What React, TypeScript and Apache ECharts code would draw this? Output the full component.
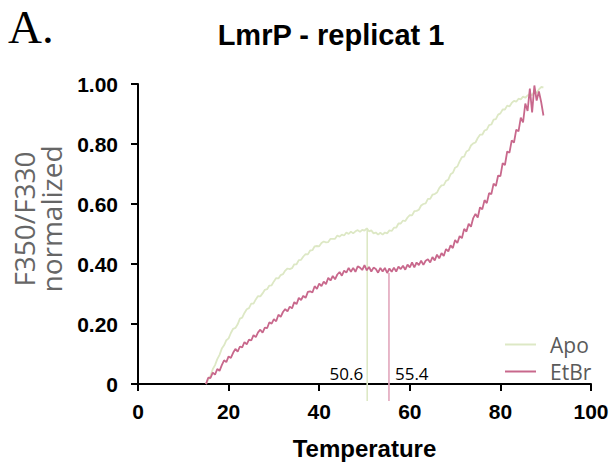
import React, { useEffect, useRef } from "react";
import * as echarts from "echarts";

// Temperature sampling grid of the measurements (°C)
const T_START = 15;
const T_STEP = 0.5;

const seriesNames = ["Apo", "EtBr"];

// F350/F330 normalized, Apo (every 0.5 °C from 15 °C)
const apoValues = [
  0.000, 0.015, 0.027, 0.049, 0.063, 0.083, 0.097, 0.118, 0.129, 0.146,
  0.152, 0.170, 0.184, 0.187, 0.199, 0.218, 0.221, 0.237, 0.249, 0.253,
  0.268, 0.268, 0.282, 0.293, 0.292, 0.302, 0.314, 0.316, 0.328, 0.329,
  0.342, 0.353, 0.352, 0.363, 0.366, 0.378, 0.385, 0.383, 0.386, 0.399,
  0.399, 0.413, 0.414, 0.425, 0.433, 0.432, 0.445, 0.446, 0.459, 0.460,
  0.459, 0.470, 0.475, 0.472, 0.473, 0.484, 0.484, 0.484, 0.495, 0.491,
  0.498, 0.495, 0.505, 0.500, 0.508, 0.502, 0.509, 0.513, 0.507, 0.514,
  0.511, 0.519, 0.509, 0.512, 0.502, 0.505, 0.498, 0.504, 0.498, 0.505,
  0.502, 0.512, 0.510, 0.521, 0.521, 0.535, 0.535, 0.545, 0.543, 0.555,
  0.563, 0.562, 0.576, 0.577, 0.581, 0.595, 0.600, 0.602, 0.617, 0.617,
  0.631, 0.633, 0.638, 0.653, 0.662, 0.663, 0.677, 0.681, 0.699, 0.704,
  0.721, 0.725, 0.742, 0.756, 0.758, 0.775, 0.779, 0.795, 0.802, 0.805,
  0.820, 0.831, 0.831, 0.845, 0.848, 0.863, 0.865, 0.881, 0.883, 0.898,
  0.902, 0.915, 0.915, 0.928, 0.925, 0.937, 0.944, 0.941, 0.951, 0.949,
  0.958, 0.954, 0.962, 0.967, 0.963, 0.973, 0.971, 0.982, 0.990, 0.989,
];

// F350/F330 normalized, EtBr (every 0.5 °C from 15 °C)
const etbrValues = [
  0.000, 0.021, 0.020, 0.038, 0.031, 0.050, 0.044, 0.063, 0.079, 0.073,
  0.092, 0.087, 0.104, 0.117, 0.108, 0.125, 0.122, 0.140, 0.132, 0.148,
  0.145, 0.163, 0.156, 0.172, 0.181, 0.171, 0.188, 0.186, 0.206, 0.201,
  0.216, 0.209, 0.231, 0.224, 0.240, 0.250, 0.242, 0.258, 0.252, 0.273,
  0.266, 0.287, 0.280, 0.294, 0.287, 0.307, 0.309, 0.305, 0.326, 0.317,
  0.335, 0.326, 0.341, 0.333, 0.354, 0.345, 0.360, 0.349, 0.365, 0.373,
  0.361, 0.378, 0.371, 0.387, 0.374, 0.387, 0.374, 0.392, 0.388, 0.380,
  0.396, 0.379, 0.390, 0.375, 0.388, 0.383, 0.371, 0.387, 0.375, 0.387,
  0.370, 0.385, 0.374, 0.388, 0.375, 0.391, 0.383, 0.394, 0.381, 0.398,
  0.389, 0.405, 0.389, 0.405, 0.396, 0.411, 0.397, 0.411, 0.416, 0.405,
  0.423, 0.412, 0.431, 0.419, 0.436, 0.427, 0.450, 0.442, 0.462, 0.453,
  0.480, 0.470, 0.493, 0.486, 0.517, 0.508, 0.534, 0.524, 0.553, 0.567,
  0.555, 0.589, 0.582, 0.613, 0.603, 0.636, 0.633, 0.668, 0.660, 0.695,
  0.693, 0.736, 0.730, 0.775, 0.771, 0.812, 0.805, 0.848, 0.842, 0.888,
  0.872, 0.935, 0.910, 0.985, 0.905, 0.995, 0.945, 0.975, 0.940, 0.895,
];

// Melting temperatures (Tm) and the curve value where each marker starts
const tmValues = [50.6, 55.4];
const tmLabels = ["50.6", "55.4"];
const tmTops = [0.52, 0.37];

const APO_COLOR = "#dde8c5";
const ETBR_COLOR = "#c8688c";
const TM_COLORS = ["#dde8c5", "#e2a6bc"];

const SANS = '"Liberation Sans", Arial, sans-serif';
const SOFT = '"Open Sans", "Noto Sans", sans-serif';
const SERIF = '"Liberation Serif", "Times New Roman", serif';

export default function App() {
  const ref = useRef<HTMLDivElement>(null);

  useEffect(() => {
    document.body.style.margin = "0";
    if (!ref.current) return;
    const chart = echarts.init(ref.current, null, { renderer: "svg" });

    const apoData = apoValues.map((v, i) => [T_START + i * T_STEP, v]);
    const etbrData = etbrValues.map((v, i) => [T_START + i * T_STEP, v]);

    chart.setOption({
      animation: false,
      backgroundColor: "#fff",
      grid: { left: 138, right: 22, top: 84, bottom: 88, containLabel: false },
      xAxis: {
        type: "value",
        min: 0,
        max: 100,
        interval: 20,
        axisLine: { show: true, onZero: false, lineStyle: { color: "#000", width: 2 } },
        axisTick: { show: true, length: 7, lineStyle: { color: "#000", width: 2 } },
        axisLabel: {
          color: "#000",
          fontFamily: SANS,
          fontWeight: "bold",
          fontSize: 21,
          margin: 17,
        },
        splitLine: { show: false },
        name: "Temperature",
        nameLocation: "middle",
        nameGap: 52,
        nameTextStyle: { color: "#000", fontFamily: SANS, fontWeight: "bold", fontSize: 24 },
      },
      yAxis: {
        type: "value",
        min: 0,
        max: 1,
        interval: 0.2,
        axisLine: { show: true, lineStyle: { color: "#000", width: 2 } },
        axisTick: { show: true, length: 7, lineStyle: { color: "#000", width: 2 } },
        axisLabel: {
          color: "#000",
          fontFamily: SANS,
          fontWeight: "bold",
          fontSize: 21,
          margin: 20,
          formatter: (v: number) => (v === 0 ? "0" : v.toFixed(2)),
        },
        splitLine: { show: false },
      },
      legend: {
        data: seriesNames,
        orient: "vertical",
        left: 505,
        top: 334,
        padding: 0,
        icon: "rect",
        itemWidth: 31,
        itemHeight: 2,
        itemGap: 6,
        textStyle: {
          color: "#5a5a5a",
          fontFamily: SOFT,
          fontSize: 21,
          lineHeight: 20,
          padding: [0, 0, 0, 9],
        },
      },
      series: [
        {
          name: seriesNames[0],
          type: "line",
          data: apoData,
          showSymbol: false,
          symbol: "none",
          color: APO_COLOR,
          lineStyle: { color: APO_COLOR, width: 1.8 },
          z: 2,
        },
        {
          name: seriesNames[1],
          type: "line",
          data: etbrData,
          showSymbol: false,
          symbol: "none",
          color: ETBR_COLOR,
          lineStyle: { color: ETBR_COLOR, width: 1.8 },
          z: 3,
        },
      ],
    });

    const graphics: any[] = [
      {
        type: "text",
        x: 8,
        y: 27,
        style: {
          text: "A.",
          fontFamily: SERIF,
          fontSize: 47,
          fill: "#000",
          align: "left",
          verticalAlign: "middle",
        },
      },
      {
        type: "text",
        x: 331,
        y: 35,
        style: {
          text: "LmrP - replicat 1",
          fontFamily: SANS,
          fontWeight: "bold",
          fontSize: 29,
          fill: "#000",
          align: "center",
          verticalAlign: "middle",
        },
      },
      {
        type: "text",
        x: 37,
        y: 219,
        rotation: Math.PI / 2,
        style: {
          text: "F350/F330\nnormalized",
          fontFamily: SOFT,
          fontSize: 28,
          lineHeight: 27,
          fill: "#666",
          align: "center",
          verticalAlign: "middle",
        },
      },
    ];

    const zeroPx = chart.convertToPixel({ gridIndex: 0 }, [0, 0]);
    tmValues.forEach((tm, i) => {
      const top = chart.convertToPixel({ gridIndex: 0 }, [tm, tmTops[i]]);
      graphics.push({
        type: "line",
        z: 1,
        shape: { x1: top[0], y1: top[1], x2: top[0], y2: zeroPx[1] + 17 },
        style: { stroke: TM_COLORS[i], lineWidth: 1.6 },
      });
      graphics.push({
        type: "text",
        x: i === 0 ? top[0] - 4 : top[0] + 6,
        y: zeroPx[1] - 11,
        style: {
          text: tmLabels[i],
          fontFamily: SOFT,
          fontSize: 17,
          fill: "#000",
          align: i === 0 ? "right" : "left",
          verticalAlign: "middle",
        },
      });
    });

    chart.setOption({ graphic: graphics });

    return () => chart.dispose();
  }, []);

  return <div ref={ref} style={{ width: 613, height: 472 }} />;
}
